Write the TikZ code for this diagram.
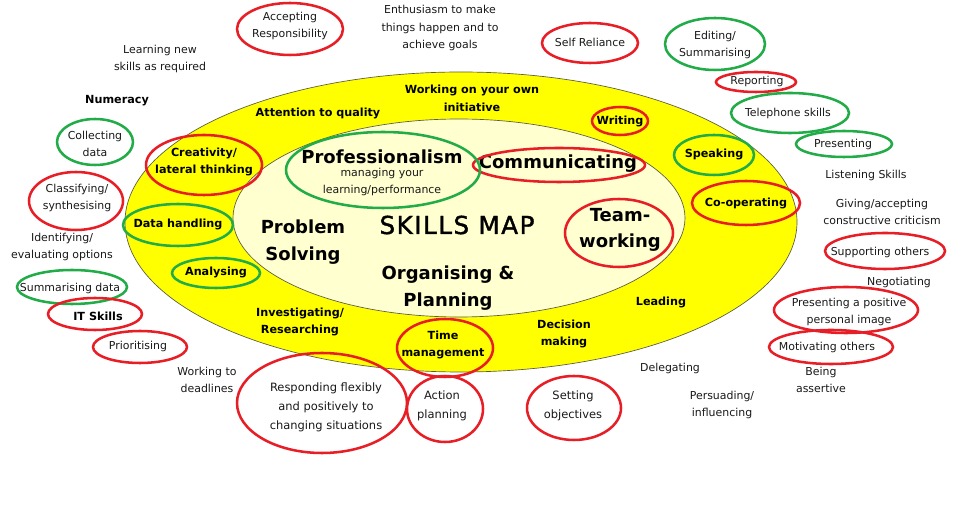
\documentclass[tikz,border=0pt]{standalone}
\usepackage{fontspec}
\setmainfont{DejaVu Sans}
\definecolor{ringred}{RGB}{232,30,38}
\definecolor{ringgreen}{RGB}{34,172,72}
\definecolor{ringyellow}{RGB}{255,255,0}
\definecolor{innerfill}{RGB}{255,255,208}
\definecolor{edgegray}{RGB}{90,90,70}
\definecolor{txt}{RGB}{25,25,25}
\tikzset{
  lab/.style={font=\fontsize{8.2}{13.2}\selectfont, align=center, text=txt, inner sep=0pt},
  blab/.style={font=\fontsize{8.4}{13.4}\selectfont\bfseries, align=center, text=black, inner sep=0pt},
  biglab/.style={font=\fontsize{13.5}{20}\selectfont\bfseries, align=center, text=black, inner sep=0pt},
  rr/.style={draw=ringred, line width=1.9pt},
  gr/.style={draw=ringgreen, line width=1.9pt},
}
\begin{document}
\begin{tikzpicture}[x=0.75pt,y=-0.75pt]
\useasboundingbox (0,0) rectangle (957,530);
\fill[white] (0,0) rectangle (957,530);
% rings of the map
\draw[draw=edgegray, line width=0.5pt, fill=ringyellow] (461,222) ellipse [x radius=336, y radius=150];
\draw[draw=edgegray, line width=0.5pt, fill=innerfill] (459,218) ellipse [x radius=226, y radius=99];

% plain outer labels
\node[lab] (learn) at (160,59) {Learning new\\skills as required};
\node[lab] (enth) at (440,28) {Enthusiasm to make\\things happen and to\\achieve goals};
\node[lab] (listen) at (866,175) {Listening Skills};
\node[lab] (giving) at (882,212) {Giving/accepting\\constructive criticism};
\node[lab] (negot) at (899,282) {Negotiating};
\node[lab] (ident) at (62,247) {Identifying/\\evaluating options};
\node[lab] (wdead) at (207,380) {Working to\\deadlines};
\node[lab] (deleg) at (670,368) {Delegating};
\node[lab] (persu) at (722,405) {Persuading/\\influencing};
\node[lab] (being) at (821,380) {Being\\assertive};

% plain bold labels
\node[blab] (numer) at (117,101) {Numeracy};
\node[blab] (attn) at (318,113) {Attention to quality};
\node[blab] (work) at (472,98) {Working on your own\\initiative};
\node[blab] (invest) at (300,322) {Investigating/\\Researching};
\node[blab] (decis) at (564,334) {Decision\\making};
\node[blab] (lead) at (661,302) {Leading};

% ringed labels
\node[lab] (accept) at (290,26) {Accepting\\Responsibility};
\draw[rr] (290,29) ellipse [x radius=53, y radius=26];
\node[lab] (selfrel) at (590,42) {Self Reliance};
\draw[rr] (590,43) ellipse [x radius=48, y radius=20];
\node[lab] (edit) at (715,45) {Editing/\\Summarising};
\draw[gr] (715,44) ellipse [x radius=50, y radius=26];
\node[lab] (report) at (757,81) {Reporting};
\draw[rr] (756,82) ellipse [x radius=40, y radius=10];
\node[lab] (tel) at (788,113) {Telephone skills};
\draw[gr] (790,113) ellipse [x radius=59, y radius=20];
\node[lab] (pres) at (843,144) {Presenting};
\draw[gr] (844,144) ellipse [x radius=48, y radius=13];
\node[blab] (speak) at (714,154) {Speaking};
\draw[gr] (714,155) ellipse [x radius=40, y radius=20];
\node[blab] (writ) at (620,121) {Writing};
\draw[rr] (620,121) ellipse [x radius=28, y radius=14];
\node[biglab] (comm) at (558,164) {Communicating};
\draw[rr] (559,165) ellipse [x radius=86, y radius=17];
\node[biglab] (prof) at (382,157) {Professionalism};
\node[lab] (manage) at (382,182) {managing your\\learning/performance};
\draw[gr] (383,170) ellipse [x radius=97, y radius=38];
\node[biglab] (team) at (620,230) {Team-\\working};
\draw[rr] (619,233) ellipse [x radius=54, y radius=34];
\node[blab] (coop) at (746,203) {Co-operating};
\draw[rr] (746,203) ellipse [x radius=54, y radius=22];
\node[blab] (creat) at (204,162) {Creativity/\\lateral thinking};
\draw[rr] (204,165) ellipse [x radius=58, y radius=30];
\node[lab] (coll) at (95,144) {Collecting\\data};
\draw[gr] (95,142) ellipse [x radius=38, y radius=23];
\node[lab] (class) at (77,198) {Classifying/\\synthesising};
\draw[rr] (76,201) ellipse [x radius=47, y radius=29];
\node[blab] (datah) at (178,224) {Data handling};
\draw[gr] (178,225) ellipse [x radius=55, y radius=21];
\node[blab] (analy) at (216,272) {Analysing};
\draw[gr] (216,273) ellipse [x radius=44, y radius=15];
\node[lab] (summ) at (70,288) {Summarising data};
\draw[gr] (72,287) ellipse [x radius=55, y radius=17];
\node[blab] (its) at (98,316) {IT Skills};
\draw[rr] (95,314) ellipse [x radius=47, y radius=16];
\node[lab] (prio) at (138,346) {Prioritising};
\draw[rr] (140,347) ellipse [x radius=47, y radius=16];
\node[blab] (timem) at (443,345) {Time\\management};
\draw[rr] (445,348) ellipse [x radius=48, y radius=29];
\node[lab, font=\fontsize{8.6}{14.3}\selectfont] (resp) at (326,407) {Responding flexibly\\and positively to\\changing situations};
\draw[rr] (322,403) ellipse [x radius=85, y radius=50];
\node[lab, font=\fontsize{8.6}{14.3}\selectfont] (actp) at (442,406) {Action\\planning};
\draw[rr] (445,409) ellipse [x radius=38, y radius=33];
\node[lab, font=\fontsize{8.6}{14.3}\selectfont] (seto) at (573,406) {Setting\\objectives};
\draw[rr] (574,408) ellipse [x radius=47, y radius=32];
\node[lab] (supp) at (880,252) {Supporting others};
\draw[rr] (885,251) ellipse [x radius=60, y radius=18];
\node[lab] (ppi) at (849,312) {Presenting a positive\\personal image};
\draw[rr] (846,310) ellipse [x radius=72, y radius=23];
\node[lab] (motiv) at (827,347) {Motivating others};
\draw[rr] (831,347) ellipse [x radius=62, y radius=17];

% centre labels
\node[inner sep=0pt, text=black, font=\fontsize{18.5}{22}\selectfont\addfontfeature{LetterSpace=6,FakeBold=1.5}] (skills) at (457,225) {SKILLS MAP};
\node[biglab] (probl) at (303,242) {Problem\\Solving};
\node[biglab] (organ) at (448,288) {Organising \&\\Planning};
\end{tikzpicture}
\end{document}
